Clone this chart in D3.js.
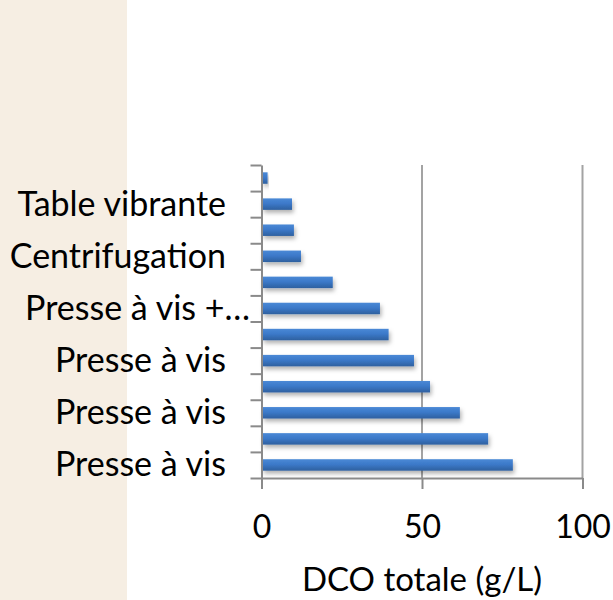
<!DOCTYPE html>
<html>
<head>
<meta charset="utf-8">
<script src="https://cdn.jsdelivr.net/npm/d3@7"></script>
<style>
  body { margin: 0; background: #fff; }
  svg { display: block; }
</style>
</head>
<body>
<script>
// categories listed top to bottom as they appear (Excel only prints every other one)
var labels = ["", "Table vibrante", "", "Centrifugation", "", "Presse à vis +…", "", "Presse à vis", "", "Presse à vis", "", "Presse à vis"];
var values = [1.9, 9.5, 10.1, 12.3, 22.2, 36.9, 39.6, 47.5, 52.5, 61.8, 70.6, 78.3];
var xTicks = [0, 50, 100];
var xTitle = "DCO totale (g/L)";

function main(){
    var width = 613,
        height = 600,
        font = "Lato, 'Open Sans', sans-serif";

    var svg = d3.select("body").append("svg")
        .attr("width", width)
        .attr("height", height);

    // beige strip on the left
    svg.append("rect")
        .attr("x", 0).attr("y", 0)
        .attr("width", 127).attr("height", height)
        .attr("fill", "#f6eee3");

    var defs = svg.append("defs");
    var grad = defs.append("linearGradient")
        .attr("id", "barGrad")
        .attr("x1", 0).attr("y1", 0).attr("x2", 0).attr("y2", 1);
    grad.append("stop").attr("offset", "0%").attr("stop-color", "#4a89d6");
    grad.append("stop").attr("offset", "45%").attr("stop-color", "#3c79c9");
    grad.append("stop").attr("offset", "100%").attr("stop-color", "#2e609f");

    var shadow = defs.append("filter")
        .attr("id", "shadow")
        .attr("x", "-10%").attr("y", "-50%")
        .attr("width", "130%").attr("height", "250%");
    shadow.append("feDropShadow")
        .attr("dx", 1.5).attr("dy", 3)
        .attr("stdDeviation", 2.2)
        .attr("flood-color", "#000")
        .attr("flood-opacity", 0.3);

    var x = d3.scaleLinear()
        .domain([0, 100])
        .range([261.5, 582.5]);

    var y = d3.scaleBand()
        .domain(d3.range(values.length))
        .range([165, 478])
        .padding(0);

    var yLin = d3.scaleLinear()
        .domain([0, values.length])
        .range([165, 478]);

    // vertical gridlines
    svg.append("g")
        .selectAll("line")
        .data(xTicks.filter(function(d) { return d > 0; }))
        .enter().append("line")
        .attr("x1", function(d) { return x(d); })
        .attr("x2", function(d) { return x(d); })
        .attr("y1", 165)
        .attr("y2", 478)
        .attr("stroke", "#a3a3a3")
        .attr("stroke-width", 2);

    // bars
    var bh = y.step() * 0.44;
    svg.append("g")
        .selectAll("rect")
        .data(values)
        .enter().append("rect")
        .attr("x", x(0) + 1)
        .attr("y", function(d, i) { return y(i) + (y.step() - bh) / 2; })
        .attr("width", function(d) { return x(d) - x(0) - 1; })
        .attr("height", bh)
        .attr("fill", "url(#barGrad)")
        .attr("filter", "url(#shadow)");

    // y axis (ticks on band edges)
    var yAxis = svg.append("g")
        .attr("transform", "translate(" + x(0) + ",0)")
        .call(d3.axisLeft(yLin)
            .tickValues(d3.range(values.length + 1))
            .tickSize(11)
            .tickSizeOuter(0)
            .tickFormat(""));
    yAxis.select(".domain").attr("stroke", "#8a8a8a").attr("stroke-width", 2);
    yAxis.selectAll(".tick line").attr("stroke", "#8a8a8a").attr("stroke-width", 2);

    // x axis
    var xAxis = svg.append("g")
        .attr("transform", "translate(0,478)")
        .call(d3.axisBottom(x)
            .tickValues(xTicks)
            .tickSize(11)
            .tickSizeOuter(0)
            .tickFormat(d3.format("d")));
    xAxis.select(".domain").attr("stroke", "#8a8a8a").attr("stroke-width", 2);
    xAxis.selectAll(".tick line").attr("stroke", "#8a8a8a").attr("stroke-width", 2);
    xAxis.selectAll(".tick text")
        .attr("y", 60)
        .attr("dy", 0)
        .attr("fill", "#000")
        .style("font-family", font)
        .style("font-size", "32px");

    // category labels at band centres
    svg.append("g")
        .selectAll("text")
        .data(labels.map(function(d, i) { return {t: d, i: i}; }).filter(function(d) { return d.t !== ""; }))
        .enter().append("text")
        .attr("x", function(d) { return d.t.slice(-1) === "…" ? x(0) - 11.5 : x(0) - 35.5; })
        .attr("y", function(d) { return y(d.i) + y.step() / 2 + 11.5; })
        .attr("text-anchor", "end")
        .style("font-family", font)
        .style("font-size", "34px")
        .attr("fill", "#000")
        .text(function(d) { return d.t; });

    // axis title
    svg.append("text")
        .attr("x", (x(0) + x(100)) / 2)
        .attr("y", 591)
        .attr("text-anchor", "middle")
        .style("font-family", font)
        .style("font-size", "33px")
        .attr("fill", "#000")
        .text(xTitle);
}

main();
</script>
</body>
</html>
